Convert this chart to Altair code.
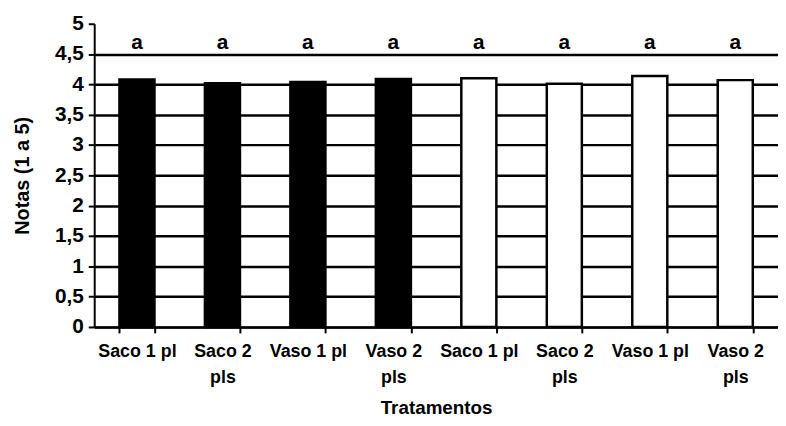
import json
import altair as alt
import pandas as pd

# ---- data ----
treatments = ["Saco 1 pl", "Saco 2 pls", "Vaso 1 pl", "Vaso 2 pls",
              "Saco 1 pl", "Saco 2 pls", "Vaso 1 pl", "Vaso 2 pls"]
label_lines = [["Saco 1 pl"], ["Saco 2", "pls"], ["Vaso 1 pl"], ["Vaso 2", "pls"],
               ["Saco 1 pl"], ["Saco 2", "pls"], ["Vaso 1 pl"], ["Vaso 2", "pls"]]
groups = ["A", "A", "A", "A", "B", "B", "B", "B"]
values = [4.08, 4.02, 4.04, 4.09, 4.10, 4.01, 4.14, 4.07]
letters = ["a", "a", "a", "a", "a", "a", "a", "a"]
letter_level = [4.5, 4.5, 4.5, 4.5, 4.5, 4.5, 4.5, 4.5]
y_ticks = [0, 0.5, 1, 1.5, 2, 2.5, 3, 3.5, 4, 4.5, 5]

ids = [str(i) for i in range(len(treatments))]
df = pd.DataFrame({
    "id": ids,
    "tratamento": treatments,
    "grupo": groups,
    "nota": values,
    "letra": letters,
    "ly": letter_level,
})

label_expr = json.dumps(label_lines) + "[toNumber(datum.value)]"

FONT = "Liberation Sans"

x_axis = alt.Axis(
    title="Tratamentos",
    labelExpr=label_expr,
    labelAngle=0,
    labelFont=FONT,
    labelFontSize=18,
    labelFontWeight="bold",
    labelColor="black",
    labelLineHeight=26,
    labelPadding=10,
    tickBand="extent",
    tickSize=6,
    tickWidth=2,
    tickColor="black",
    domainColor="black",
    domainWidth=2,
    grid=False,
    titleFont=FONT,
    titleFontSize=19,
    titleFontWeight="bold",
    titleColor="black",
    titlePadding=12,
)

y_axis = alt.Axis(
    title="Notas (1 a 5)",
    values=y_ticks,
    format=".1~f",
    labelExpr="replace(datum.label, '.', ',')",
    labelFont=FONT,
    labelFontSize=21,
    labelFontWeight="bold",
    labelColor="black",
    labelPadding=5,
    tickSize=6,
    tickWidth=2,
    tickColor="black",
    domainColor="black",
    domainWidth=2,
    grid=True,
    gridColor="black",
    gridWidth=2.5,
    gridOpacity={"condition": {"test": "datum.value >= 5", "value": 0}, "value": 1},
    titleFont=FONT,
    titleFontSize=20,
    titleFontWeight="bold",
    titleColor="black",
    titleX=-72,
    titleY=153,
    titleAlign="center",
    titleBaseline="middle",
)

x_scale = alt.Scale(paddingInner=0.59, paddingOuter=0.295)
y_scale = alt.Scale(domain=[0, 5], nice=False)

base = alt.Chart(df)

bars = base.mark_bar(stroke="black", strokeWidth=2.5).encode(
    x=alt.X("id:N", sort=ids, scale=x_scale, axis=x_axis),
    y=alt.Y("nota:Q", scale=y_scale, axis=y_axis),
    color=alt.Color(
        "grupo:N",
        scale=alt.Scale(domain=["A", "B"], range=["#000000", "#ffffff"]),
        legend=None,
    ),
)

text = base.mark_text(
    baseline="bottom", dy=-1, font=FONT, fontSize=21, fontWeight="bold", color="black"
).encode(
    x=alt.X("id:N", sort=ids, scale=x_scale, axis=x_axis),
    y=alt.Y("ly:Q", scale=y_scale, axis=y_axis),
    text="letra:N",
)

chart = (
    alt.layer(bars, text)
    .properties(
        width=690,
        height=306,
        autosize=alt.AutoSizeParams(type="none"),
        padding={"left": 87, "top": 14, "right": 0, "bottom": 92},
        background="white",
    )
    .configure_view(stroke=None)
)

chart.save("out.html", embed_options={"renderer": "svg", "actions": False})
